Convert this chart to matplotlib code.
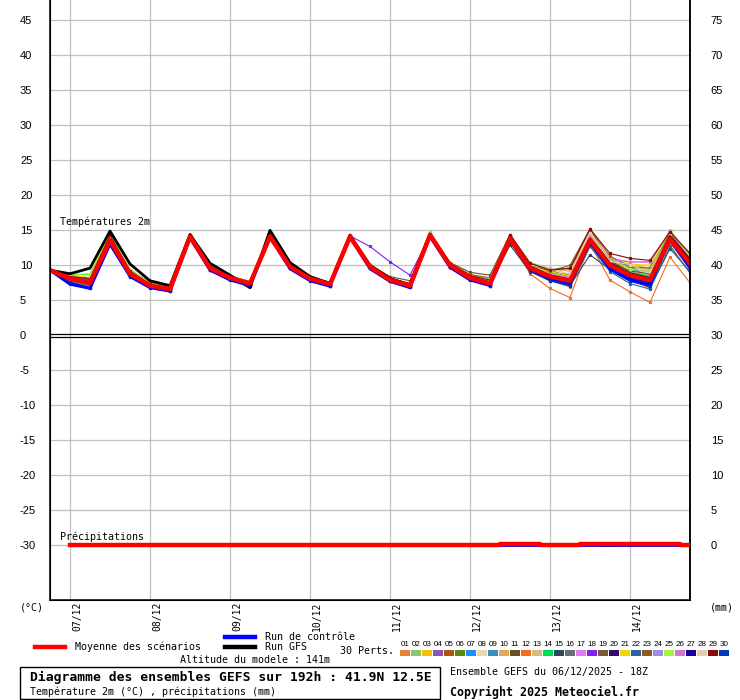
import matplotlib.pyplot as plt
from matplotlib.lines import Line2D
from matplotlib.patches import Rectangle

# time axis: GEFS run 06/12 18Z, every 6 h up to 192 h
hours = list(range(0, 193, 6))
day_hours = [6, 30, 54, 78, 102, 126, 150, 174]
day_labels = ["07/12", "08/12", "09/12", "10/12", "11/12", "12/12", "13/12", "14/12"]

t_mean = [9.3, 8.1, 7.5, 13.6, 8.8, 7.1, 6.6, 14.1, 9.6, 8.2, 7.4, 14.1, 9.8, 8.1, 7.3, 14.1, 9.8,
          7.9, 7.1, 14.3, 10.0, 8.2, 7.4, 13.8, 9.6, 8.4, 7.8, 13.6, 10.0, 8.6, 7.9, 13.8, 10.3]
t_control = [9.3, 7.3, 6.7, 13.0, 8.4, 6.8, 6.3, 13.9, 9.3, 7.9, 7.1, 14.0, 9.5, 7.8, 7.0, 14.0, 9.5,
             7.7, 6.8, 14.1, 9.7, 7.9, 7.1, 13.6, 9.4, 8.1, 7.4, 13.3, 9.5, 7.9, 7.2, 13.8, 9.7]
t_gfs = [9.3, 8.8, 9.6, 14.9, 10.2, 7.8, 7.1, 14.4, 10.3, 8.6, 6.8, 15.0, 10.4, 8.4, 7.4, 14.3, 10.0,
         8.1, 7.2, 14.5, 10.1, 8.3, 7.5, 13.9, 9.8, 8.5, 7.9, 13.8, 10.2, 8.8, 8.1, 14.1, 10.7]

pert_01 = [9.3, 7.8, 7.0, 13.2, 8.9, 7.1, 6.5, 14.3, 9.7, 8.2, 7.3, 14.1, 9.9, 8.1, 7.2, 14.2, 9.8, 8.0, 7.1, 14.4, 10.1, 8.2, 7.3, 13.5, 9.2, 7.8, 6.9, 12.7, 9.5, 7.9, 6.8, 13.2, 9.4]
pert_02 = [9.4, 8.3, 7.9, 14.0, 9.1, 7.3, 6.7, 14.0, 9.5, 8.1, 7.3, 14.0, 9.7, 8.0, 7.2, 14.0, 9.9, 8.0, 7.2, 14.5, 10.2, 8.4, 7.7, 14.1, 10.0, 8.9, 8.4, 14.2, 10.4, 9.3, 9.1, 14.6, 10.8]
pert_03 = [9.2, 8.0, 7.4, 13.7, 8.9, 7.2, 6.6, 14.2, 9.7, 8.3, 7.5, 14.2, 9.9, 8.2, 7.4, 14.2, 9.9, 8.1, 7.3, 14.4, 10.1, 8.3, 7.6, 14.0, 10.2, 9.1, 8.7, 13.9, 10.8, 9.8, 9.4, 14.9, 11.3]
pert_04 = [9.3, 8.2, 7.7, 13.9, 9.0, 7.0, 6.5, 13.9, 9.4, 8.0, 7.2, 13.9, 9.6, 7.9, 7.1, 13.9, 9.6, 7.8, 7.0, 14.1, 9.8, 8.0, 7.1, 13.6, 9.4, 8.1, 7.4, 13.3, 9.8, 8.3, 7.6, 13.9, 10.1]
pert_05 = [9.4, 8.4, 8.0, 14.3, 9.3, 7.4, 6.8, 14.3, 9.8, 8.4, 7.6, 14.3, 10.0, 8.3, 7.5, 14.3, 10.0, 8.2, 7.4, 14.5, 10.3, 8.6, 8.0, 14.4, 10.3, 9.3, 9.4, 15.1, 10.6, 9.1, 8.4, 14.0, 10.7]
pert_06 = [9.2, 7.9, 7.2, 13.4, 8.8, 7.1, 6.6, 14.1, 9.6, 8.2, 7.4, 14.0, 9.8, 8.1, 7.3, 14.1, 9.8, 7.9, 7.1, 14.2, 9.9, 8.1, 7.3, 13.7, 9.5, 8.3, 7.7, 13.4, 9.9, 8.5, 7.8, 13.7, 10.2]
pert_07 = [9.3, 7.4, 6.8, 13.0, 8.5, 6.9, 6.4, 13.9, 9.4, 8.0, 7.2, 14.0, 9.7, 8.0, 7.1, 14.0, 9.7, 7.8, 7.0, 14.2, 9.8, 8.0, 7.1, 13.4, 9.3, 7.9, 7.2, 13.0, 9.5, 8.0, 7.3, 13.4, 9.6]
pert_08 = [9.4, 8.3, 7.8, 14.2, 9.2, 7.4, 6.8, 14.3, 9.8, 8.4, 7.6, 14.3, 10.0, 8.3, 7.5, 14.3, 10.1, 8.2, 7.4, 14.4, 10.2, 8.6, 8.0, 14.1, 10.1, 9.5, 9.3, 14.3, 10.7, 10.0, 9.7, 14.4, 11.0]
pert_09 = [9.3, 8.0, 7.3, 13.5, 8.7, 7.0, 6.5, 14.0, 9.5, 8.1, 7.3, 14.1, 9.8, 8.1, 7.2, 14.1, 9.8, 7.9, 7.1, 14.3, 10.0, 8.2, 7.4, 14.2, 10.4, 9.4, 8.2, 14.2, 10.7, 9.9, 8.0, 13.4, 9.7]
pert_10 = [9.3, 8.1, 7.6, 13.8, 9.0, 7.2, 6.7, 14.2, 9.7, 8.3, 7.5, 14.2, 9.9, 8.2, 7.4, 14.2, 9.9, 8.0, 7.2, 14.4, 10.1, 8.4, 7.7, 13.9, 9.8, 8.8, 8.3, 13.8, 10.3, 9.1, 8.6, 14.1, 10.6]
pert_11 = [9.4, 8.5, 8.2, 14.4, 9.4, 7.5, 6.9, 14.4, 9.9, 8.4, 7.6, 14.4, 10.1, 8.4, 7.6, 14.4, 10.1, 8.4, 7.8, 14.7, 10.4, 9.0, 8.6, 14.4, 10.2, 9.4, 9.6, 14.0, 10.4, 9.2, 8.8, 14.5, 11.4]
pert_12 = [9.2, 7.7, 7.0, 13.2, 8.6, 6.9, 6.4, 13.9, 9.4, 8.0, 7.2, 13.9, 9.6, 7.9, 7.1, 14.0, 9.7, 7.8, 7.0, 14.1, 9.8, 8.0, 7.2, 13.6, 8.8, 6.7, 5.4, 13.1, 7.9, 6.2, 4.7, 11.2, 7.5]
pert_13 = [9.3, 8.2, 7.7, 14.0, 9.1, 7.3, 6.7, 14.2, 9.7, 8.3, 7.5, 14.1, 9.8, 8.2, 7.4, 14.2, 9.9, 8.0, 7.2, 14.3, 10.1, 8.5, 8.1, 14.3, 10.4, 9.6, 9.1, 14.5, 11.1, 10.2, 9.5, 14.7, 11.1]
pert_14 = [9.4, 8.6, 8.7, 14.3, 9.2, 7.3, 6.7, 14.2, 9.7, 8.2, 7.4, 14.1, 9.8, 8.1, 7.3, 14.1, 9.8, 8.0, 7.2, 14.3, 10.0, 8.3, 7.6, 13.9, 9.7, 8.6, 8.1, 13.7, 10.2, 9.0, 8.5, 14.2, 10.5]
pert_15 = [9.3, 7.9, 7.2, 13.3, 8.7, 7.0, 6.5, 14.0, 9.5, 8.1, 7.3, 14.0, 9.7, 8.0, 7.2, 14.0, 9.7, 7.8, 7.0, 14.2, 9.9, 8.1, 7.3, 12.9, 9.1, 7.8, 7.1, 11.5, 9.4, 8.0, 6.8, 12.4, 9.1]
pert_16 = [9.2, 7.8, 7.1, 13.3, 8.7, 7.0, 6.5, 14.0, 9.5, 8.1, 7.3, 14.0, 9.7, 8.0, 7.2, 14.0, 9.7, 7.8, 7.0, 14.2, 9.9, 8.1, 7.3, 13.7, 9.4, 8.1, 7.4, 13.2, 9.6, 8.2, 7.3, 13.3, 9.8]
pert_17 = [9.3, 8.1, 7.5, 13.7, 8.9, 7.1, 6.6, 14.1, 9.6, 8.2, 7.4, 14.1, 9.8, 8.1, 7.3, 14.2, 9.8, 7.9, 7.1, 14.1, 9.6, 8.0, 7.2, 13.8, 9.8, 8.6, 8.2, 14.0, 11.0, 10.5, 10.4, 14.8, 10.8]
pert_18 = [9.4, 8.4, 7.9, 14.1, 9.1, 7.2, 6.6, 14.1, 9.6, 8.2, 7.4, 14.2, 9.9, 8.1, 7.3, 14.2, 12.7, 10.5, 8.6, 14.2, 9.8, 8.0, 7.2, 13.9, 9.5, 8.2, 7.6, 13.5, 9.6, 8.1, 7.3, 13.6, 9.9]
pert_19 = [9.3, 8.2, 7.6, 13.8, 9.0, 7.2, 6.7, 14.2, 9.7, 8.3, 7.5, 14.2, 9.9, 8.2, 7.4, 14.2, 9.9, 8.1, 7.3, 14.4, 10.2, 8.6, 7.9, 14.1, 10.0, 9.0, 8.6, 14.3, 10.5, 9.6, 9.2, 14.4, 11.2]
pert_20 = [9.3, 8.0, 7.3, 13.5, 8.8, 7.1, 6.6, 14.1, 9.6, 8.2, 7.4, 14.1, 9.8, 8.0, 7.2, 14.1, 9.8, 7.9, 7.1, 14.3, 9.9, 8.1, 7.3, 13.8, 9.5, 8.2, 7.5, 13.7, 9.8, 8.3, 7.5, 14.1, 10.2]
pert_21 = [9.4, 8.5, 8.3, 14.4, 9.3, 7.4, 6.8, 14.3, 9.8, 8.3, 7.5, 14.2, 9.9, 8.2, 7.4, 14.3, 9.9, 8.1, 7.3, 14.4, 10.1, 8.4, 7.8, 14.0, 9.9, 9.1, 8.5, 14.1, 10.9, 10.2, 10.0, 15.0, 11.4]
pert_22 = [9.2, 7.6, 6.9, 13.1, 8.5, 6.9, 6.4, 13.9, 9.4, 8.0, 7.2, 13.9, 9.6, 7.9, 7.1, 14.0, 9.7, 7.8, 7.0, 14.1, 9.8, 8.0, 7.1, 13.5, 9.3, 7.9, 7.0, 12.7, 9.1, 7.4, 6.6, 12.8, 8.9]
pert_23 = [9.3, 8.3, 7.9, 14.1, 9.2, 7.4, 6.9, 14.4, 9.9, 8.5, 7.7, 14.4, 10.1, 8.3, 7.5, 14.4, 10.0, 8.2, 7.4, 14.6, 10.3, 8.7, 8.2, 14.2, 10.1, 9.2, 10.0, 15.2, 11.3, 9.8, 9.6, 14.6, 11.7]
pert_24 = [9.3, 8.0, 7.4, 13.6, 8.8, 7.1, 6.6, 14.0, 9.6, 8.1, 7.3, 14.0, 9.7, 8.0, 7.2, 14.1, 9.8, 7.9, 7.1, 14.2, 9.7, 8.0, 7.2, 13.6, 9.4, 8.3, 7.7, 13.7, 10.2, 8.9, 8.3, 14.3, 10.5]
pert_25 = [9.4, 8.7, 8.8, 14.6, 9.4, 7.4, 6.8, 14.4, 9.8, 8.3, 7.5, 14.3, 9.9, 8.2, 7.4, 14.3, 10.0, 8.1, 7.3, 14.8, 10.2, 8.5, 7.8, 14.2, 10.0, 8.8, 8.3, 14.3, 10.8, 9.5, 9.3, 15.1, 11.2]
pert_26 = [9.3, 8.1, 7.5, 13.8, 8.9, 7.1, 6.6, 14.1, 9.6, 8.2, 7.4, 14.1, 9.8, 8.1, 7.3, 14.1, 9.8, 7.9, 7.1, 14.2, 9.9, 8.2, 7.5, 14.0, 9.8, 8.7, 8.3, 14.4, 10.8, 10.5, 10.5, 14.9, 11.0]
pert_27 = [9.2, 7.5, 6.8, 13.0, 8.4, 6.8, 6.3, 13.8, 9.3, 7.9, 7.1, 13.9, 9.6, 7.9, 7.0, 13.9, 9.6, 7.7, 6.9, 14.1, 9.7, 7.9, 7.1, 13.6, 9.4, 8.0, 7.3, 13.4, 9.6, 8.1, 7.4, 13.7, 9.8]
pert_28 = [9.3, 8.2, 7.7, 13.9, 9.0, 7.2, 6.7, 14.2, 9.7, 8.3, 7.5, 14.2, 9.9, 8.2, 7.4, 14.2, 9.9, 8.0, 7.2, 14.3, 10.1, 8.4, 8.0, 14.0, 10.1, 9.4, 8.8, 14.6, 10.6, 10.1, 9.0, 14.3, 10.8]
pert_29 = [9.4, 8.4, 8.1, 14.3, 9.2, 7.3, 6.7, 14.2, 9.7, 8.3, 7.5, 14.2, 9.9, 8.2, 7.4, 14.2, 9.9, 8.1, 7.3, 14.4, 10.2, 8.5, 7.9, 14.4, 10.3, 9.3, 9.6, 15.2, 11.7, 11.0, 10.7, 14.8, 11.7]
pert_30 = [9.3, 7.6, 6.8, 13.1, 8.4, 6.8, 6.3, 13.9, 9.3, 7.9, 7.1, 13.9, 9.6, 7.8, 7.0, 13.9, 9.6, 7.7, 6.9, 14.1, 9.7, 7.9, 7.1, 13.4, 9.2, 7.8, 7.1, 13.1, 9.3, 7.7, 7.0, 13.5, 9.4]

perts = [pert_01, pert_02, pert_03, pert_04, pert_05, pert_06, pert_07, pert_08, pert_09, pert_10,
         pert_11, pert_12, pert_13, pert_14, pert_15, pert_16, pert_17, pert_18, pert_19, pert_20,
         pert_21, pert_22, pert_23, pert_24, pert_25, pert_26, pert_27, pert_28, pert_29, pert_30]

pert_colors = ["#e8813a", "#8dc46e", "#f2c200", "#8e55b0", "#b4530f", "#5a8a0e", "#1e8cff", "#e8d6b4",
               "#3c8cbe", "#e8a85a", "#6b5020", "#f86a20", "#d2c080", "#00dc5a", "#284a5e", "#657078",
               "#e27cf2", "#7e22f2", "#7a5a2e", "#320a6e", "#f0d800", "#2a64a0", "#8e5a22", "#9e8eea",
               "#a2f43c", "#d476d2", "#1e00a0", "#e0ceae", "#8a0a0a", "#0038be"]

# 6-hourly precipitation (mm), hours 6..192
precip_hours = list(range(6, 193, 6))
precip_mean = [0, 0, 0, 0, 0, 0, 0, 0, 0, 0, 0, 0, 0, 0, 0, 0,
               0, 0, 0, 0, 0, 0, 0.15, 0.15, 0, 0, 0.15, 0.15, 0.15, 0.15, 0.15, 0]
precip_control = [0] * 32
precip_pert_09 = [0, 0, 0, 0, 0, 0, 0, 0, 0, 0, 0, 0, 0, 0, 0, 0,
                  0, 0, 0, 0, 0, 0, 0, 0, 0, 0, 0, 0.4, 0, 0, 0, 0]

W, H = 740, 700


def fx(px):
    return px / W


def fy(py):
    return 1 - py / H


plt.rcParams['font.family'] = ['DejaVu Sans Mono', 'DejaVu Sans']
plt.rcParams['axes.unicode_minus'] = False

fig = plt.figure(figsize=(W / 100, H / 100), dpi=100)
ax = fig.add_axes([fx(50), fy(600), 640 / W, 600 / H])
ax.set_xlim(0, 192)
ax.set_ylim(-37.8, 47.9)

grid_col = "#c0c0c0"
for v in range(-30, 50, 5):
    if v != 0:
        ax.axhline(v, color=grid_col, lw=0.9, zorder=0)
for h in day_hours:
    ax.axvline(h, color=grid_col, lw=0.9, zorder=0)

# double separator between temperature and precipitation panels
ax.axhline(0.2, color="black", lw=0.9, zorder=1)
ax.axhline(-0.22, color="black", lw=0.9, zorder=1)

# temperature
for p, c in zip(perts, pert_colors):
    ax.plot(hours, p, color=c, lw=0.8, marker="s", ms=1.3, zorder=2)
ax.plot(hours, t_gfs, color="black", lw=2.0, zorder=3)
ax.plot(hours, t_control, color="#0000ff", lw=2.0, zorder=3)
ax.plot(hours, t_mean, color="red", lw=3.2, zorder=4)

ax.set_xticks([])
ax.set_yticks(range(-30, 50, 5))
ax.tick_params(axis="y", length=0, pad=21.6, labelsize=8)
for lab in ax.get_yticklabels():
    lab.set_ha("left")
    lab.set_fontfamily("Liberation Sans")

for side in ["left", "right", "bottom"]:
    ax.spines[side].set_linewidth(1.1)
ax.spines["top"].set_visible(False)

# precipitation on the right axis
ax2 = ax.twinx()
ax2.set_ylim(-7.8, 77.9)
ax2.step(precip_hours, precip_control, where="mid", color="#0000ff", lw=2.2, zorder=2)
ax2.step(precip_hours, precip_pert_09, where="mid", color="#3c8cbe", lw=1.0, zorder=2)
ax2.step(precip_hours, precip_mean, where="mid", color="red", lw=3.2, zorder=3)
ax2.set_yticks(range(0, 80, 5))
ax2.tick_params(axis="y", length=0, pad=15, labelsize=8)
for lab in ax2.get_yticklabels():
    lab.set_fontfamily("Liberation Sans")
ax2.spines["top"].set_visible(False)
ax2.spines["right"].set_linewidth(1.1)

for h, lab in zip(day_hours, day_labels):
    ax.text(h + 2.2, -38.1, lab, rotation=90, ha="center", va="top", fontsize=7)

fs = 7.2
fig.text(fx(60), fy(222), "Températures 2m", fontsize=fs, va="center")
fig.text(fx(60), fy(537), "Précipitations", fontsize=fs, va="center")
fig.text(fx(20), fy(607), "(°C)", fontsize=fs, va="center")
fig.text(fx(710), fy(607), "(mm)", fontsize=fs, va="center")

# legend
fig.add_artist(Line2D([fx(35), fx(65)], [fy(647), fy(647)], color="red", lw=3.2))
fig.text(fx(75), fy(647), "Moyenne des scénarios", fontsize=fs, va="center")
fig.add_artist(Line2D([fx(225), fx(255)], [fy(637), fy(637)], color="#0000ff", lw=3.2))
fig.text(fx(265), fy(637), "Run de contrôle", fontsize=fs, va="center")
fig.add_artist(Line2D([fx(225), fx(255)], [fy(647), fy(647)], color="black", lw=3.2))
fig.text(fx(265), fy(647), "Run GFS", fontsize=fs, va="center")
fig.text(fx(180), fy(660), "Altitude du modele : 141m", fontsize=fs, va="center")
fig.text(fx(340), fy(651), "30 Perts.", fontsize=fs, va="center")

for i, c in enumerate(pert_colors):
    x0 = 400 + 11 * i
    fig.add_artist(Rectangle((fx(x0), fy(656)), 10 / W, 6 / H, transform=fig.transFigure,
                             facecolor=c, edgecolor="none"))
    fig.text(fx(x0 + 5), fy(644), "%02d" % (i + 1), fontsize=5.8, ha="center", va="center",
             family="Liberation Sans")

# title box
fig.add_artist(Rectangle((fx(20), fy(699)), 420 / W, 32 / H, transform=fig.transFigure,
                         fill=False, edgecolor="black", lw=1))
fig.text(fx(30), fy(677), "Diagramme des ensembles GEFS sur 192h : 41.9N 12.5E",
         fontsize=9.4, fontweight="bold", va="center")
fig.text(fx(30), fy(691.5), "Température 2m (°C) , précipitations (mm)", fontsize=fs, va="center")
fig.text(fx(450), fy(672), "Ensemble GEFS du 06/12/2025 - 18Z", fontsize=fs, va="center")
fig.text(fx(450), fy(692), "Copyright 2025 Meteociel.fr", fontsize=8.4, fontweight="bold", va="center")

fig.savefig("out.png", dpi=100)
